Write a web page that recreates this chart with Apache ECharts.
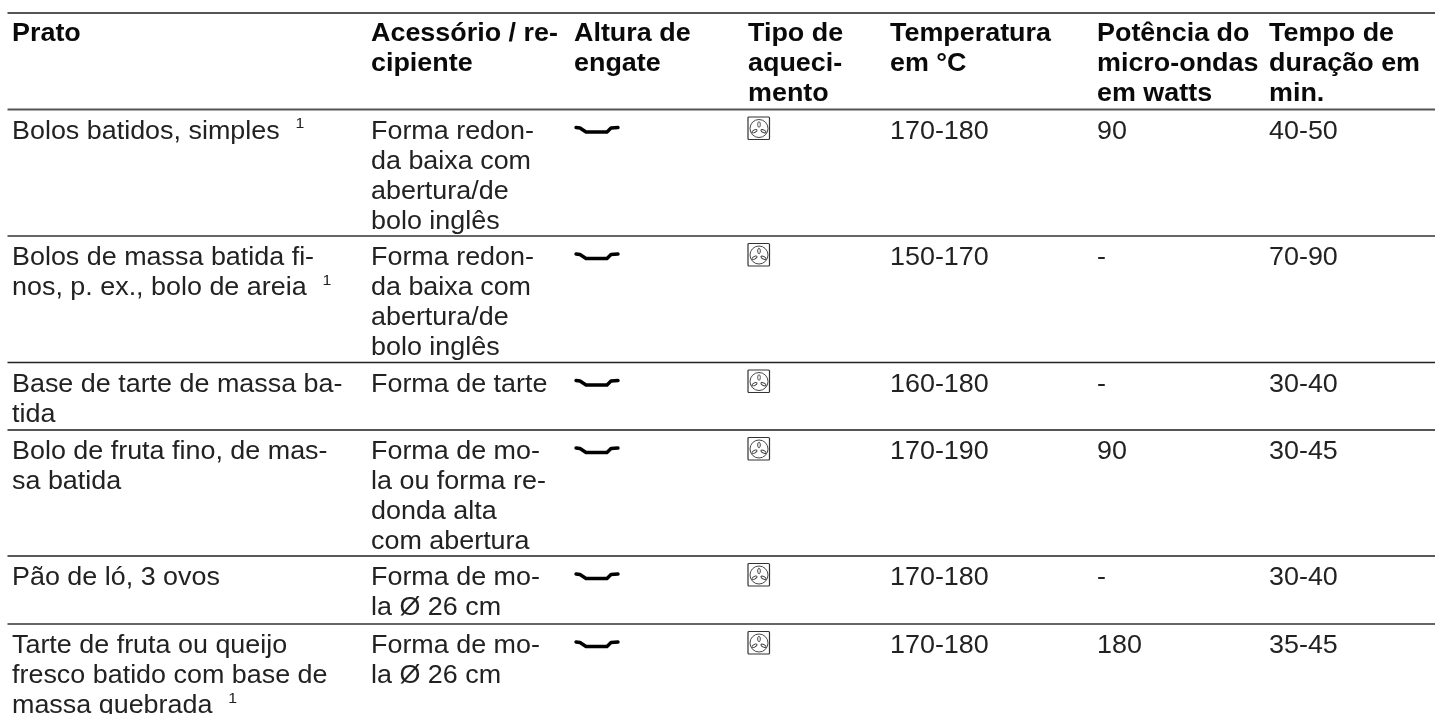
<!DOCTYPE html>
<html><head><meta charset="utf-8">
<style>html,body{margin:0;padding:0;background:#fff}#c{width:1435px;height:714px}</style>
<script src="https://cdn.jsdelivr.net/npm/echarts@6/dist/echarts.min.js"></script>
</head><body><div id="c"></div>
<script>
const headers = ["Prato","Acessório / re-\ncipiente","Altura de\nengate","Tipo de\naqueci-\nmento","Temperatura\nem °C","Potência do\nmicro-ondas\nem watts","Tempo de\nduração em\nmin."];
const dishes = ["Bolos batidos, simples {s|1}","Bolos de massa batida fi-\nnos, p. ex., bolo de areia {s|1}","Base de tarte de massa ba-\ntida","Bolo de fruta fino, de mas-\nsa batida","Pão de ló, 3 ovos","Tarte de fruta ou queijo\nfresco batido com base de\nmassa quebrada {s|1}"];
const containers = ["Forma redon-\nda baixa com\nabertura/de\nbolo inglês","Forma redon-\nda baixa com\nabertura/de\nbolo inglês","Forma de tarte","Forma de mo-\nla ou forma re-\ndonda alta\ncom abertura","Forma de mo-\nla Ø 26 cm","Forma de mo-\nla Ø 26 cm"];
const temperatures = ["170-180","150-170","160-180","170-190","170-180","170-180"];
const microwave = ["90","-","-","90","-","180"];
const durations = ["40-50","70-90","30-40","30-45","30-40","35-45"];

const colX = [12,371,574,748,890,1097,1269];
const ruleY = [13,109.5,236,362.5,430,556,624];
const ruleW = [2,2,1.5,1.5,2,1.5,2];
const ruleC = ['#555','#555','#333','#222','#555','#222','#666'];
const LH = 30, FS = 25.5, SX = 1.055;
const FONT = '"Liberation Sans", Arial, sans-serif';

const rows = dishes.map((d,i)=>[i]);
function textEl(x,y,str,bold){
  return {type:'text',x,y,scaleX:SX,style:{x:0,y:0,text:str,fill:bold?'#0a0a0a':'#222',
    fontFamily:FONT,fontSize:FS,fontWeight:bold?'bold':'normal',lineHeight:LH,verticalAlign:'top',
    rich:{s:{fontSize:15,fontFamily:FONT,fill:'#222',verticalAlign:'top',lineHeight:25,padding:[0,0,0,8]}}}};
}
function fan(x,y){
  const b=(cx,cy,rot)=>({type:'ellipse',x:cx,y:cy,rotation:rot,shape:{cx:0,cy:0,rx:1.3,ry:2.8},style:{fill:'none',stroke:'#333',lineWidth:0.9}});
  return {type:'group',x,y,children:[
    {type:'rect',shape:{x:0,y:0,width:21.5,height:22.5,r:1},style:{fill:'none',stroke:'#333',lineWidth:1.2}},
    {type:'circle',shape:{cx:11,cy:11.5,r:9},style:{fill:'none',stroke:'#333',lineWidth:0.9}},
    b(11,7.5,0),b(6.5,14.2,-1.1),b(15.5,14.2,1.1)]};
}
function shelf(x,y){
  return {type:'group',x,y,children:[
    {type:'polyline',shape:{points:[[2,0],[6,0.5],[12,4.5],[33,4.5],[37,0.5],[44,0]]},style:{fill:'none',stroke:'#000',lineWidth:3.4,lineJoin:'round',lineCap:'round'}}]};
}
const option = {
  animation:false,
  grid:{left:0,right:0,top:0,bottom:0},
  xAxis:{type:'value',min:0,max:1435,show:false},
  yAxis:{type:'value',min:0,max:714,inverse:true,show:false},
  series:[
    {type:'custom',coordinateSystem:'cartesian2d',silent:true,clip:false,
     data:[[0,0]].concat(rows.map(r=>[1,r[0]])),
     renderItem(params,api){
       const kind=api.value(0), i=api.value(1), children=[];
       const xs=colX.map(v=>api.coord([v,0])[0]);
       const rule=k=>{const y=api.coord([0,ruleY[k]])[1];
         return {type:'line',shape:{x1:7.5,y1:y,x2:1435,y2:y},style:{stroke:ruleC[k],lineWidth:ruleW[k]}};};
       if(kind===0){
         headers.forEach((h,c)=>children.push(textEl(xs[c],api.coord([0,ruleY[0]+6])[1],h,true)));
         children.push(rule(0),rule(1));
       } else {
         const top=api.coord([0,ruleY[i+1]])[1], ty=top+7;
         [dishes[i],containers[i]].forEach((t,k)=>children.push(textEl(xs[k],ty,t,false)));
         children.push(shelf(xs[2],top+18));
         children.push(fan(xs[3],top+7.5));
         [temperatures[i],microwave[i],durations[i]].forEach((t,k)=>children.push(textEl(xs[4+k],ty,t,false)));
         if(i<5) children.push(rule(i+2));
       }
       return {type:'group',children};
     }}
  ]
};
echarts.init(document.getElementById('c')).setOption(option);
</script></body></html>
